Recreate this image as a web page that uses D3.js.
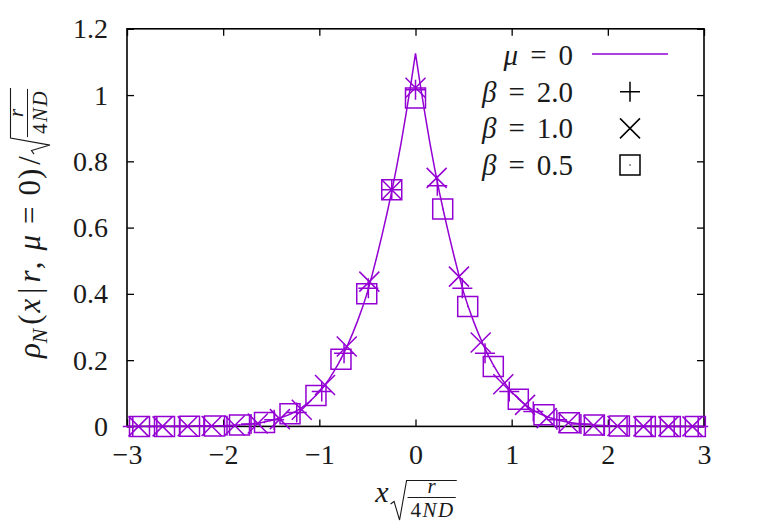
<!DOCTYPE html>
<html><head><meta charset="utf-8">
<script src="https://cdn.jsdelivr.net/npm/d3@7"></script>
<style>html,body{margin:0;padding:0;background:#fff;}</style>
</head><body>
<svg id="chart" width="757" height="530"></svg>
<script>
// ---- data ----
const xTicks = [-3, -2, -1, 0, 1, 2, 3];
const xTickLabels = ["\u22123", "\u22122", "\u22121", "0", "1", "2", "3"];
const yTicks = [0, 0.2, 0.4, 0.6, 0.8, 1.0, 1.2];
const yTickLabels = ["0", "0.2", "0.4", "0.6", "0.8", "1", "1.2"];

// mu = 0 curve
const lineX = [-3.0,-2.5,-2.2,-2.0,-1.8,-1.7,-1.6,-1.5,-1.4,-1.3,-1.2,-1.1,-1.0,-0.95,-0.9,-0.85,-0.8,-0.75,-0.7,-0.65,-0.6,-0.55,-0.5,-0.45,-0.4,-0.35,-0.3,-0.25,-0.2,-0.15,-0.1,-0.05,0,
  0.05,0.1,0.15,0.2,0.25,0.3,0.35,0.4,0.45,0.5,0.55,0.6,0.65,0.7,0.75,0.8,0.85,0.9,0.95,1.0,1.1,1.2,1.3,1.4,1.5,1.6,1.7,1.8,2.0,2.2,2.5,3.0];
const lineY = [0,0.0003,0.001,0.002,0.005,0.008,0.012,0.018,0.026,0.037,0.053,0.075,0.104,0.122,0.142,0.165,0.19,0.218,0.249,0.283,0.32,0.36,0.405,0.458,0.515,0.575,0.638,0.705,0.777,0.855,0.94,1.03,1.126,
  1.03,0.94,0.855,0.777,0.705,0.638,0.575,0.515,0.458,0.405,0.36,0.32,0.283,0.249,0.218,0.19,0.165,0.142,0.122,0.104,0.075,0.053,0.037,0.026,0.018,0.012,0.008,0.005,0.002,0.001,0.0003,0];

// beta = 2.0 (plus)
const plusX = [-2.94,-2.69,-2.45,-2.2,-1.96,-1.71,-1.47,-1.235,-0.975,-0.743,-0.49,-0.247,0,0.227,0.487,0.723,0.975,1.225,1.47,1.72,1.96,2.2,2.45,2.69,2.94];
const plusY = [0,0,0,0.001,0.002,0.007,0.02,0.042,0.105,0.221,0.417,0.714,1.016,0.726,0.417,0.221,0.105,0.045,0.02,0.007,0.002,0.001,0,0,0];

// beta = 1.0 (cross)
const crossX = [-2.88,-2.63,-2.37,-2.12,-1.88,-1.64,-1.41,-1.183,-0.941,-0.715,-0.48,-0.247,0,0.22,0.452,0.678,0.913,1.139,1.364,1.59,1.85,2.1,2.37,2.63,2.88];
const crossY = [0,0,0.0005,0.001,0.003,0.009,0.022,0.05,0.125,0.241,0.437,0.714,1.022,0.75,0.452,0.253,0.127,0.065,0.025,0.011,0.003,0.001,0,0,0];

// beta = 0.5 (square)
const sqX = [-2.87,-2.61,-2.35,-2.09,-1.83,-1.57,-1.305,-1.035,-0.775,-0.507,-0.247,0,0.283,0.543,0.809,1.069,1.336,1.6,1.86,2.12,2.39,2.65,2.91];
const sqY = [0,0,0.0005,0.001,0.004,0.012,0.038,0.093,0.203,0.4,0.714,0.991,0.656,0.362,0.181,0.082,0.035,0.011,0.004,0.001,0,0,0];

const legendLabels = [
  {greek: "\u03bc", rest: "0", kind: "line"},
  {greek: "\u03b2", rest: "2.0", kind: "plus"},
  {greek: "\u03b2", rest: "1.0", kind: "cross"},
  {greek: "\u03b2", rest: "0.5", kind: "square"}
];

// ---- drawing ----
const COLOR = "#9400d3";
const SERIF = "'Liberation Serif', 'Times New Roman', serif";
const TXT = "#1a1a1a";
const svg = d3.select("#chart");
const L = 127, R = 704, T = 28.8, B = 426.4;
const x = d3.scaleLinear().domain([-3, 3]).range([L, R]);
const y = d3.scaleLinear().domain([0, 1.2]).range([B, T]);

// axes (inward ticks, mirrored)
const tickLen = 7;
const axB = svg.append("g").attr("transform", `translate(0,${B})`)
  .call(d3.axisBottom(x).tickValues(xTicks).tickSizeInner(-tickLen).tickSizeOuter(0).tickPadding(18)
    .tickFormat((d, i) => xTickLabels[i]));
const axT = svg.append("g").attr("transform", `translate(0,${T})`)
  .call(d3.axisTop(x).tickValues(xTicks).tickSizeInner(-tickLen).tickSizeOuter(0).tickFormat(""));
const axL = svg.append("g").attr("transform", `translate(${L},0)`)
  .call(d3.axisLeft(y).tickValues(yTicks).tickSizeInner(-tickLen).tickSizeOuter(0).tickPadding(19)
    .tickFormat((d, i) => yTickLabels[i]));
const axR = svg.append("g").attr("transform", `translate(${R},0)`)
  .call(d3.axisRight(y).tickValues(yTicks).tickSizeInner(-tickLen).tickSizeOuter(0).tickFormat(""));
[axB, axT, axL, axR].forEach(a => {
  a.select(".domain").remove();
  a.selectAll(".tick line").attr("stroke", "#000").attr("stroke-width", 1.3);
  a.selectAll("text").attr("font-family", SERIF).attr("font-size", 28).attr("fill", TXT);
});
axB.selectAll("text").attr("dy", "0.71em");
// border
svg.append("rect").attr("x", L).attr("y", T).attr("width", R - L).attr("height", B - T)
  .attr("fill", "none").attr("stroke", "#000").attr("stroke-width", 1.6);

// curve
const pts = lineX.map((v, i) => [v, lineY[i]]);
svg.append("path").datum(pts)
  .attr("d", d3.line().x(d => x(d[0])).y(d => y(d[1])))
  .attr("fill", "none").attr("stroke", COLOR).attr("stroke-width", 1.5);

const H = 10;
function plusPath(cx, cy) { return `M${cx - H},${cy}H${cx + H}M${cx},${cy - H}V${cy + H}`; }
function crossPath(cx, cy) { return `M${cx - H},${cy - H}L${cx + H},${cy + H}M${cx - H},${cy + H}L${cx + H},${cy - H}`; }
function squarePath(cx, cy) { return `M${cx - H},${cy - H}H${cx + H}V${cy + H}H${cx - H}Z M${cx - 0.5},${cy}h1`; }

function drawMarkers(xs, ys, fn, cls) {
  svg.append("g").attr("class", cls).selectAll("path")
    .data(xs.map((v, i) => [v, ys[i]])).join("path")
    .attr("d", d => fn(x(d[0]), y(d[1])))
    .attr("fill", "none").attr("stroke", COLOR).attr("stroke-width", 1.5);
}
drawMarkers(plusX, plusY, plusPath, "plus");
drawMarkers(crossX, crossY, crossPath, "cross");
drawMarkers(sqX, sqY, squarePath, "square");

// legend
const legX = 573, legY0 = 55, legDy = 36.7, symX = 630;
legendLabels.forEach((d, i) => {
  const cy = legY0 + i * legDy;
  const t = svg.append("text").attr("x", legX).attr("y", cy).attr("dy", "0.34em")
    .attr("text-anchor", "end").attr("font-family", SERIF).attr("font-size", 29).attr("fill", TXT);
  t.append("tspan").attr("font-style", "italic").text(d.greek);
  t.append("tspan").attr("dx", 12).text("=");
  t.append("tspan").attr("dx", 12).text(d.rest);
  if (d.kind === "line") {
    svg.append("line").attr("x1", 592).attr("x2", 668).attr("y1", cy - 1).attr("y2", cy - 1)
      .attr("stroke", COLOR).attr("stroke-width", 1.5);
  } else {
    const fn = d.kind === "plus" ? plusPath : d.kind === "cross" ? crossPath : squarePath;
    svg.append("path").attr("d", fn(symX, cy)).attr("fill", "none").attr("stroke", "#000").attr("stroke-width", 1.5);
  }
});

// math labels with radical
function mathLabel(g, prefixParts, mainSize, fracSize, shift) {
  const t = g.append("text").attr("font-family", SERIF).attr("font-size", mainSize).attr("fill", TXT);
  prefixParts.forEach(p => {
    const ts = t.append("tspan").text(p.t);
    if (p.i) ts.attr("font-style", "italic");
    let dy = 0;
    if (p.sub) { ts.attr("font-size", mainSize * 0.7); dy += mainSize * 0.22; }
    if (p.back) { dy -= mainSize * 0.22; }
    if (dy) ts.attr("dy", dy);
    if (p.dx) ts.attr("dx", p.dx);
  });
  const w1 = t.node().getComputedTextLength() + prefixParts.reduce((s, p) => s + (p.dx || 0), 0);
  const x0 = w1 + 2;
  const num = g.append("text").attr("font-family", SERIF).attr("font-size", fracSize).attr("font-style", "italic")
    .attr("text-anchor", "middle").attr("fill", TXT).text("r");
  const den = g.append("text").attr("font-family", SERIF).attr("font-size", fracSize)
    .attr("text-anchor", "middle").attr("fill", TXT).attr("letter-spacing", 1.5);
  den.append("tspan").text("4");
  den.append("tspan").attr("font-style", "italic").text("ND");
  const wd = den.node().getComputedTextLength();
  const fx0 = x0 + 17, fw = wd + 4, fc = fx0 + fw / 2;
  num.attr("x", fc).attr("y", shift - 9.5);
  den.attr("x", fc + 1).attr("y", shift + 14.5);
  g.append("line").attr("x1", fx0).attr("x2", fx0 + fw).attr("y1", shift - 4.5).attr("y2", shift - 4.5)
    .attr("stroke", TXT).attr("stroke-width", 1);
  const top = shift - 21.5, bot = shift + 18, mid = shift + 2;
  g.append("path")
    .attr("d", `M${x0},${mid} L${x0 + 3.5},${mid - 2.5} L${x0 + 9},${bot} L${x0 + 16},${top} H${fx0 + fw + 1}`)
    .attr("fill", "none").attr("stroke", TXT).attr("stroke-width", 1.1).attr("stroke-linejoin", "miter");
  return fx0 + fw + 1;
}

// x label
const gx = svg.append("g");
const wx = mathLabel(gx, [{t: "x", i: true}], 30, 21, 0);
gx.attr("transform", `translate(${416 - wx / 2},502)`);

// y label
const gy = svg.append("g");
const wy = mathLabel(gy, [
  {t: "\u03c1", i: true}, {t: "N", i: true, sub: true}, {t: "(", back: true, dx: 4},
  {t: "x", i: true, dx: 2}, {t: "|", dx: 5}, {t: "r", i: true, dx: 5}, {t: ",", dx: 1},
  {t: "\u03bc", i: true, dx: 11}, {t: "=", dx: 11}, {t: "0", dx: 11}, {t: ")", dx: 1}, {t: "/", dx: 4}
], 31, 21, -8);
gy.attr("transform", `translate(40,${223 + wy / 2}) rotate(-90)`);
</script>
</body></html>
